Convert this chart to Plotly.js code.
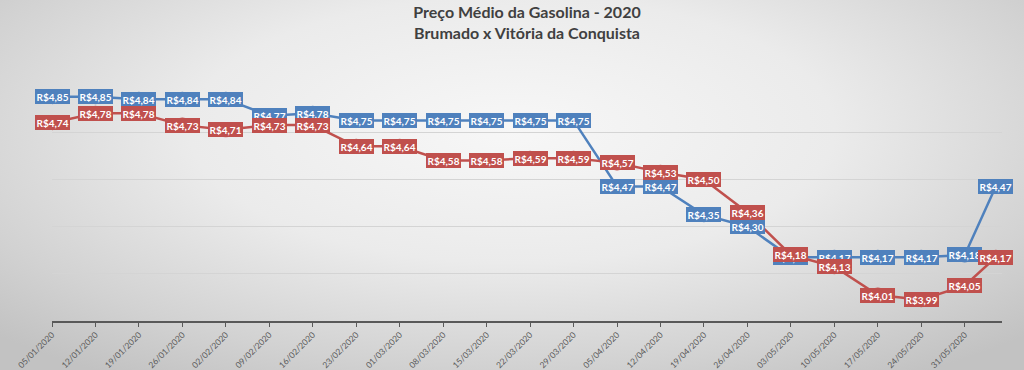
<!DOCTYPE html>
<html>
<head>
<meta charset="utf-8">
<script src="https://cdn.plot.ly/plotly-3.0.1.min.js"></script>
<style>
  html, body { margin: 0; padding: 0; }
  body {
    width: 1024px; height: 370px; overflow: hidden;
    background: radial-gradient(ellipse 70% 80% at 50% 35%, #f7f7f7 0%, #ebebeb 45%, #d2d2d2 80%, #c2c2c2 100%);
  }
  #chart { width: 1024px; height: 370px; }
</style>
</head>
<body>
<div id="chart"></div>
<script>
// Dates of the weekly observations
const dates = [
  "2020-01-05","2020-01-12","2020-01-19","2020-01-26","2020-02-02","2020-02-09",
  "2020-02-16","2020-02-23","2020-03-01","2020-03-08","2020-03-15","2020-03-22",
  "2020-03-29","2020-04-05","2020-04-12","2020-04-19","2020-04-26","2020-05-03",
  "2020-05-10","2020-05-17","2020-05-24","2020-05-31","2020-06-05"
];
// Tick labels shown on the x axis
const tickDates = dates.slice(0, 22);
const tickLabels = [
  "05/01/2020","12/01/2020","19/01/2020","26/01/2020","02/02/2020","09/02/2020",
  "16/02/2020","23/02/2020","01/03/2020","08/03/2020","15/03/2020","22/03/2020",
  "29/03/2020","05/04/2020","12/04/2020","19/04/2020","26/04/2020","03/05/2020",
  "10/05/2020","17/05/2020","24/05/2020","31/05/2020"
];
// Series values (R$)
const blueValues = [4.85,4.85,4.84,4.84,4.84,4.77,4.78,4.75,4.75,4.75,4.75,4.75,4.75,4.47,4.47,4.35,4.30,4.17,4.17,4.17,4.17,4.18,4.47];
const redValues  = [4.74,4.78,4.78,4.73,4.71,4.73,4.73,4.64,4.64,4.58,4.58,4.59,4.59,4.57,4.53,4.50,4.36,4.18,4.13,4.01,3.99,4.05,4.17];

const BLUE = "#4F81BD";
const RED = "#C0504D";

function fmt(v) { return "R$" + v.toFixed(2).replace(".", ","); }

function trace(vals, color, name) {
  return {
    type: "scatter", mode: "lines+markers", name: name,
    x: dates, y: vals,
    line: { color: color, width: 2.5 },
    marker: { color: color, size: 15, symbol: "circle" },
    cliponaxis: true,
    hoverinfo: "skip"
  };
}

function labels(vals, color) {
  return vals.map((v, i) => ({
    x: dates[i], y: v, xref: "x", yref: "y",
    text: "<b>" + fmt(v) + "</b>",
    showarrow: false,
    xanchor: "center", yanchor: "middle",
    bgcolor: color, borderpad: 1.5, borderwidth: 0,
    font: { family: "Lato, 'Open Sans', sans-serif", size: 10, color: "#ffffff" }
  }));
}

const data = [trace(blueValues, BLUE, "Brumado"), trace(redValues, RED, "Vitória da Conquista")];

const layout = {
  width: 1024, height: 370,
  paper_bgcolor: "rgba(0,0,0,0)",
  plot_bgcolor: "rgba(0,0,0,0)",
  showlegend: false,
  margin: { l: 52, r: 22, t: 85, b: 49 },
  title: {
    text: "<b>Preço Médio da Gasolina - 2020<br>Brumado x Vitória da Conquista</b>",
    font: { family: "Lato, 'Open Sans', sans-serif", size: 16, color: "#404040" },
    x: 0.5, xanchor: "center", xref: "paper",
    yref: "container", y: 0.952, yanchor: "middle"
  },
  xaxis: {
    type: "date",
    range: ["2020-01-05", "2020-06-06"],
    tickmode: "array", tickvals: tickDates, ticktext: tickLabels,
    tickangle: -45,
    tickfont: { family: "Lato, 'Open Sans', sans-serif", size: 8.5, color: "#595959" },
    showgrid: false, zeroline: false,
    showline: true, linecolor: "#595959", linewidth: 1.5,
    ticks: "outside", ticklen: 4, tickcolor: "#595959", tickwidth: 1
  },
  yaxis: {
    range: [3.9, 4.9],
    tickmode: "array", tickvals: [3.9, 4.1, 4.3, 4.5, 4.7, 4.9],
    showticklabels: false,
    showgrid: true, gridcolor: "#d4d4d4", gridwidth: 1,
    zeroline: false, showline: false, ticks: ""
  },
  annotations: labels(blueValues, BLUE).concat(labels(redValues, RED))
};

Plotly.newPlot("chart", data, layout, { displayModeBar: false, staticPlot: true });
</script>
</body>
</html>
